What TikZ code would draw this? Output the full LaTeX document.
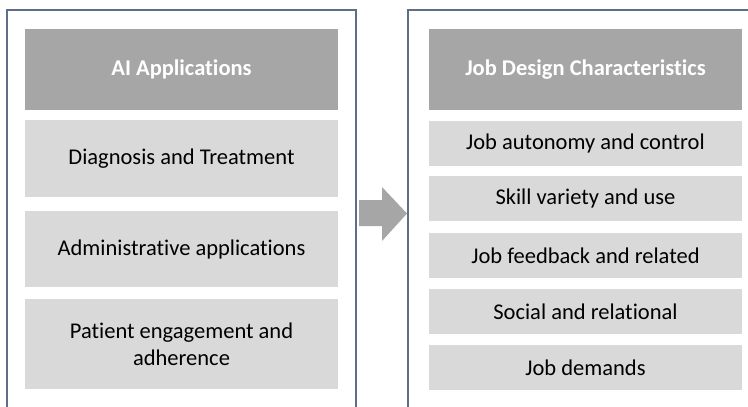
\documentclass[tikz,border=0pt]{standalone}
\usepackage{fontspec}
\setmainfont{Carlito}[Ligatures={NoCommon}]
\begin{document}
\begin{tikzpicture}[x=1pt,y=-1pt,
  frame/.style={draw=framecol,line width=1.2pt},
  hdr/.style={fill=hdrgray,draw=none,text=white,font=\fontsize{22.5}{26}\selectfont\bfseries,align=center},
  item/.style={fill=itemgray,draw=none,text=black,font=\fontsize{22.5}{27}\selectfont,align=center},
]
\definecolor{framecol}{HTML}{5E6E86}
\definecolor{hdrgray}{HTML}{A6A6A6}
\definecolor{itemgray}{HTML}{D9D9D9}
\useasboundingbox (0,0) rectangle (748,407);
% frames
\draw[frame] (7,420) -- (7,10) -- (356,10) -- (356,420);
\draw[frame] (408,420) -- (408,10) -- (760,10);
% left column
\fill[hdrgray] (25,29) rectangle (338,110);
\node[hdr] (lh) at (181.5,69.5) {AI Applications};
\fill[itemgray] (25,120) rectangle (338,197);
\node[item] (l1) at (181.5,158.5) {Diagnosis and Treatment};
\fill[itemgray] (25,211) rectangle (338,287);
\node[item] (l2) at (181.5,249) {Administrative applications};
\fill[itemgray] (25,299) rectangle (338,389);
\node[item] (l3) at (181.5,344) {Patient engagement and\\adherence};
% right column
\fill[hdrgray] (429,29) rectangle (742,110);
\node[hdr] (rh) at (585.5,69.5) {Job Design Characteristics};
\fill[itemgray] (429,121) rectangle (742,166);
\node[item] (r1) at (585.5,143.5) {Job autonomy and control};
\fill[itemgray] (429,176) rectangle (742,221);
\node[item] (r2) at (585.5,198.5) {Skill variety and use};
\fill[itemgray] (429,233) rectangle (742,278);
\node[item] (r3) at (585.5,255.5) {Job feedback and related};
\fill[itemgray] (429,289) rectangle (742,334);
\node[item] (r4) at (585.5,311.5) {Social and relational};
\fill[itemgray] (429,345) rectangle (742,390);
\node[item] (r5) at (585.5,367.5) {Job demands};
% arrow
\fill[hdrgray] (359,200) -- (382,200) -- (382,187) -- (407,213.5) -- (382,241) -- (382,226) -- (359,226) -- cycle;
\end{tikzpicture}
\end{document}
